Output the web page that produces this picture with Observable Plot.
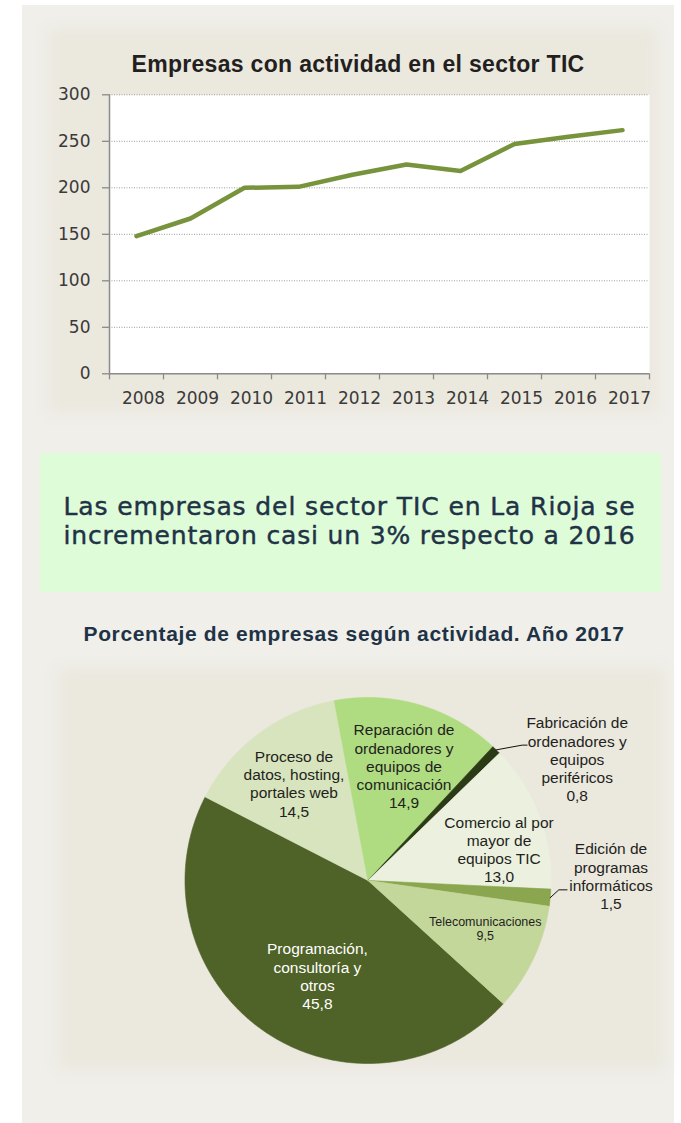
<!DOCTYPE html>
<html><head><meta charset="utf-8">
<script src="https://cdn.jsdelivr.net/npm/d3@7"></script>
<script src="https://cdn.jsdelivr.net/npm/@observablehq/plot@0.6"></script>
<style>
html,body{margin:0;padding:0;background:#fff;width:681px;height:1123px;overflow:hidden;position:relative}
#panel{position:absolute;left:22px;top:5px;width:652px;height:1118px;background:#f0efea}
.card{position:absolute;background:#ebe8de;filter:blur(7px)}
#card1{left:48px;top:28px;width:610px;height:385px}
#card2{left:58px;top:668px;width:608px;height:402px}
#box{position:absolute;left:39.5px;top:453px;width:621.5px;height:139px;background:#dffcd9}
.ttl{position:absolute;white-space:nowrap;line-height:1;transform:translateX(-50%)}
#t1{left:358px;top:50.5px;font:bold 23px "Liberation Sans Narrow","Liberation Sans",Arial,sans-serif;color:#231f20}
#b1,#b2{left:349.5px;font:25px "DejaVu Sans",sans-serif;color:#1f3346;-webkit-text-stroke:0.45px #1f3346}
#b1{top:492.2px}
#b2{top:520.6px}
#t2{left:354px;top:622.2px;font:bold 21px "Liberation Sans Narrow","Liberation Sans",Arial,sans-serif;color:#1f3346}
#chart1{position:absolute;left:50px;top:80px}
#chart2{position:absolute;left:55px;top:665px}
</style>
</head><body>
<div id="panel"></div>
<div class="card" id="card1"></div>
<div class="card" id="card2"></div>
<div id="t1" class="ttl">Empresas con actividad en el sector TIC</div>
<div id="chart1"></div>
<div id="box"></div>
<div id="b1" class="ttl">Las empresas del sector TIC en La Rioja se</div>
<div id="b2" class="ttl">incrementaron casi un 3% respecto a 2016</div>
<div id="t2" class="ttl">Porcentaje de empresas según actividad. Año 2017</div>
<div id="chart2"></div>
<script>
// ---- Data: line chart ----
const years = [2008, 2009, 2010, 2011, 2012, 2013, 2014, 2015, 2016, 2017];
const empresas = [148, 167, 200, 201, 214, 225, 218, 247, 255, 262];
const yTicks = [0, 50, 100, 150, 200, 250, 300];

// ---- Data: pie chart ----
const actividades = [
  "Programación,\nconsultoría y\notros",
  "Proceso de\ndatos, hosting,\nportales web",
  "Reparación de\nordenadores y\nequipos de\ncomunicación",
  "Fabricación de\nordenadores y\nequipos\nperiféricos",
  "Comercio al por\nmayor de\nequipos TIC",
  "Edición de\nprogramas\ninformáticos",
  "Telecomunicaciones"
];
const porcentajes = [45.8, 14.5, 14.9, 0.8, 13.0, 1.5, 9.5];

// ---- Styles / layout (not data) ----
const colores = ["#4f6228", "#d7e4bd", "#afdc80", "#2b3b16", "#ebf1de", "#8aa64e", "#c4d79b"];
const labelColor = ["#ffffff", "#231f20", "#231f20", "#231f20", "#231f20", "#231f20", "#231f20"];
const labelShift = [-6.8, -0.6, 1.25, 15.4, 7.3, -6.5, -3.0];   // degrees from slice mid-angle
const labelRadius = [0.59, 0.667, 0.656, 1.322, 0.736, 1.328, 0.692]; // fraction of radius
const startAngleDeg = 132.3;
const leaders = {3: {r: 1.121, da: 4.25, ext: 0.027}, 5: {r: 1.044, da: -2.6, ext: 0.045}};

// width fitting for HTML titles
function fit(id, target) {
  const el = document.getElementById(id);
  el.style.letterSpacing = "0px";
  const w = el.getBoundingClientRect().width;
  const n = el.textContent.length;
  el.style.letterSpacing = ((target - w) / n) + "px";
}
fit("t1", 453);
fit("b1", 572);
fit("b2", 572);
fit("t2", 541);

// ---- Line chart ----
const lineData = years.map((y, i) => ({year: y, value: empresas[i]}));
const bounds = [...years.map(y => y - 0.5), years[years.length - 1] + 0.5];
const axisGrey = "#8a8a8a";
const chart1 = Plot.plot({
  width: 610, height: 340,
  marginLeft: 59, marginRight: 11, marginTop: 14.3, marginBottom: 46.7,
  x: {domain: [bounds[0], bounds[bounds.length - 1]]},
  y: {domain: [0, 300]},
  style: {background: "transparent", fontFamily: "DejaVu Sans, sans-serif", fontSize: "17px", color: "#3a3a3a"},
  marks: [
    Plot.frame({fill: "#ffffff", stroke: "none"}),
    Plot.gridY(yTicks.filter(d => d > 0), {stroke: "#9a9a9a", strokeOpacity: 1, strokeDasharray: "1,1.5"}),
    Plot.axisY(yTicks, {tickSize: 7, tickFormat: () => "", stroke: axisGrey, strokeWidth: 1.3, label: null}),
    Plot.axisY(yTicks, {tickSize: 0, tickPadding: 19, fontSize: 17, fill: "#3a3a3a", label: null}),
    Plot.axisX(bounds, {tickSize: 6, tickFormat: () => "", stroke: axisGrey, strokeWidth: 1.3, label: null}),
    Plot.axisX(years, {tickSize: 0, tickPadding: 18, dx: 7, fontSize: 17, tickFormat: d => String(d), fill: "#3a3a3a", label: null}),
    Plot.ruleX([bounds[0]], {stroke: axisGrey, strokeWidth: 1.5}),
    Plot.ruleY([0], {stroke: axisGrey, strokeWidth: 1.5}),
    Plot.line(lineData, {x: "year", y: "value", stroke: "#77933c", strokeWidth: 4.5})
  ]
});
document.getElementById("chart1").append(chart1);

// ---- Pie chart ----
const rad = d => d * Math.PI / 180;
const a0 = rad(startAngleDeg);
const arcs = d3.pie().sort(null).value(d => d).startAngle(a0).endAngle(a0 + 2 * Math.PI)(porcentajes);

const slicePts = [];
arcs.forEach((a, i) => {
  const c = colores[i];
  slicePts.push({x: 0, y: 0, k: i, c});
  const steps = Math.max(2, Math.ceil((a.endAngle - a.startAngle) / rad(0.4)));
  for (let s = 0; s <= steps; s++) {
    const t = a.startAngle + (a.endAngle - a.startAngle) * s / steps;
    slicePts.push({x: Math.sin(t), y: Math.cos(t), k: i, c});
  }
  slicePts.push({x: 0, y: 0, k: i, c});
});

const fmt = v => d3.format(".1f")(v).replace(".", ",");
const labels = arcs.map((a, i) => {
  const mid = (a.startAngle + a.endAngle) / 2 + rad(labelShift[i]);
  const r = labelRadius[i];
  return {x: r * Math.sin(mid), y: r * Math.cos(mid), text: actividades[i] + "\n" + fmt(porcentajes[i]), c: labelColor[i], small: i === 6};
});

const leaderPts = [];
Object.entries(leaders).forEach(([k, L]) => {
  const a = arcs[+k];
  const mid = (a.startAngle + a.endAngle) / 2;
  const ex = L.r * Math.sin(mid + rad(L.da)), ey = L.r * Math.cos(mid + rad(L.da));
  leaderPts.push({x: Math.sin(mid), y: Math.cos(mid), k});
  leaderPts.push({x: ex, y: ey, k});
  leaderPts.push({x: ex + L.ext, y: ey, k});
});

const cx = 312.5, cy = 215, R = 183;
const chart2 = Plot.plot({
  width: 613, height: 405, margin: 0,
  x: {domain: [-1, 1], range: [cx - R, cx + R], axis: null},
  y: {domain: [-1, 1], range: [cy + R, cy - R], axis: null},
  color: {type: "identity"},
  style: {background: "transparent", fontFamily: "Liberation Sans, Arial, sans-serif"},
  marks: [
    Plot.line(slicePts, {x: "x", y: "y", z: "k", fill: "c", stroke: "c", strokeWidth: 0.6, curve: "linear"}),
    Plot.line(leaderPts, {x: "x", y: "y", z: "k", stroke: "#111", strokeWidth: 1, curve: "linear"}),
    Plot.text(labels.filter(d => !d.small), {x: "x", y: "y", text: "text", fill: "c", fontSize: 15.5, lineHeight: 1.175, textAnchor: "middle"}),
    Plot.text(labels.filter(d => d.small), {x: "x", y: "y", text: "text", fill: "c", fontSize: 12.5, lineHeight: 1.1, textAnchor: "middle"})
  ]
});
document.getElementById("chart2").append(chart2);
</script>
</body></html>
